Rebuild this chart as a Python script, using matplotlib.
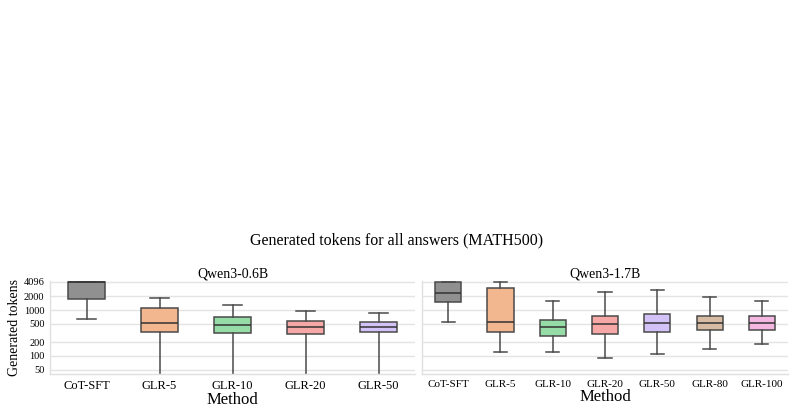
import matplotlib
matplotlib.use("Agg")
import matplotlib.pyplot as plt
import colorsys
import matplotlib.colors as mcolors

plt.rcParams['font.family'] = ['Liberation Serif', 'DejaVu Serif']

title = "Generated tokens for all answers (MATH500)"

# Qwen3-0.6B
methods_06 = ["CoT-SFT", "GLR-5", "GLR-10", "GLR-20", "GLR-50"]
whislo_06 = [626, 10, 10, 10, 10]
q1_06 = [1740, 330, 309, 298, 325]
med_06 = [4096, 512, 463, 418, 418]
q3_06 = [4096, 1089, 714, 583, 555]
whishi_06 = [4096, 1803, 1286, 951, 860]

# Qwen3-1.7B
methods_17 = ["CoT-SFT", "GLR-5", "GLR-10", "GLR-20", "GLR-50", "GLR-80", "GLR-100"]
whislo_17 = [560, 119, 119, 88, 107, 142, 177]
q1_17 = [1474, 325, 274, 303, 335, 359, 365]
med_17 = [2318, 538, 431, 486, 512, 520, 520]
q3_17 = [4096, 3030, 604, 728, 805, 728, 728]
whishi_17 = [4096, 4096, 1550, 2515, 2781, 1896, 1574]

yticks = [50, 100, 200, 500, 1000, 2000, 4096]

base_colors = {
    "CoT-SFT": "#909090",
    "GLR-5": "#ffb482",
    "GLR-10": "#8de5a1",
    "GLR-20": "#ff9f9b",
    "GLR-50": "#d0bbff",
    "GLR-80": "#debb9b",
    "GLR-100": "#fab0e4",
}


def desat(c, prop=0.8):
    r, g, b = mcolors.to_rgb(c)
    h, l, s = colorsys.rgb_to_hls(r, g, b)
    return colorsys.hls_to_rgb(h, l, s * prop)


fig = plt.figure(figsize=(7.94, 4.12), dpi=100)
fig.text(0.5, 1 - 240 / 412, title, ha='center', va='center', fontsize=11.5)

ax1 = fig.add_axes([50 / 794, 1 - 374 / 412, (415 - 50) / 794, 93 / 412])
ax2 = fig.add_axes([422 / 794, 1 - 374 / 412, (788 - 422) / 794, 93 / 412])

panels = [
    (ax1, "Qwen3-0.6B", methods_06, whislo_06, q1_06, med_06, q3_06, whishi_06, 9, 7.5),
    (ax2, "Qwen3-1.7B", methods_17, whislo_17, q1_17, med_17, q3_17, whishi_17, 8, 7.5),
]

edge = "#4a4a4a"
for ax, name, methods, lo, q1, med, q3, hi, xfs, yfs in panels:
    stats = []
    for i, m in enumerate(methods):
        stats.append(dict(label=m, whislo=lo[i], q1=q1[i], med=med[i],
                          q3=q3[i], whishi=hi[i], fliers=[]))
    bp = ax.bxp(stats, positions=range(len(methods)), widths=0.5,
                patch_artist=True, showfliers=False,
                boxprops=dict(edgecolor=edge, linewidth=1.1),
                medianprops=dict(color="#333333", linewidth=1.1),
                whiskerprops=dict(color=edge, linewidth=1.1),
                capprops=dict(color=edge, linewidth=1.1))
    for patch, m in zip(bp['boxes'], methods):
        patch.set_facecolor(desat(base_colors[m]))
    ax.set_yscale('log')
    ax.set_ylim(40, 4300)
    ax.set_xlim(-0.5, len(methods) - 0.5)
    ax.set_yticks(yticks)
    ax.minorticks_off()
    ax.yaxis.grid(True, color="#e4e4e4", linewidth=1.0)
    ax.set_axisbelow(True)
    ax.set_xticks(range(len(methods)))
    ax.set_xticklabels(methods, fontsize=xfs)
    ax.tick_params(axis='both', length=0, pad=4)
    ax.set_title(name, fontsize=10, pad=2)
    ax.set_xlabel("Method", fontsize=12, labelpad=0)
    for s in ['top', 'right']:
        ax.spines[s].set_visible(False)
    for s in ['left', 'bottom']:
        ax.spines[s].set_color("#e0e0e0")
        ax.spines[s].set_linewidth(1.0)

ax1.set_yticklabels([str(t) for t in yticks], fontsize=7.5)
ax1.set_ylabel("Generated tokens", fontsize=10, labelpad=2)
ax2.set_yticklabels([])

fig.savefig("out.png", dpi=100)
